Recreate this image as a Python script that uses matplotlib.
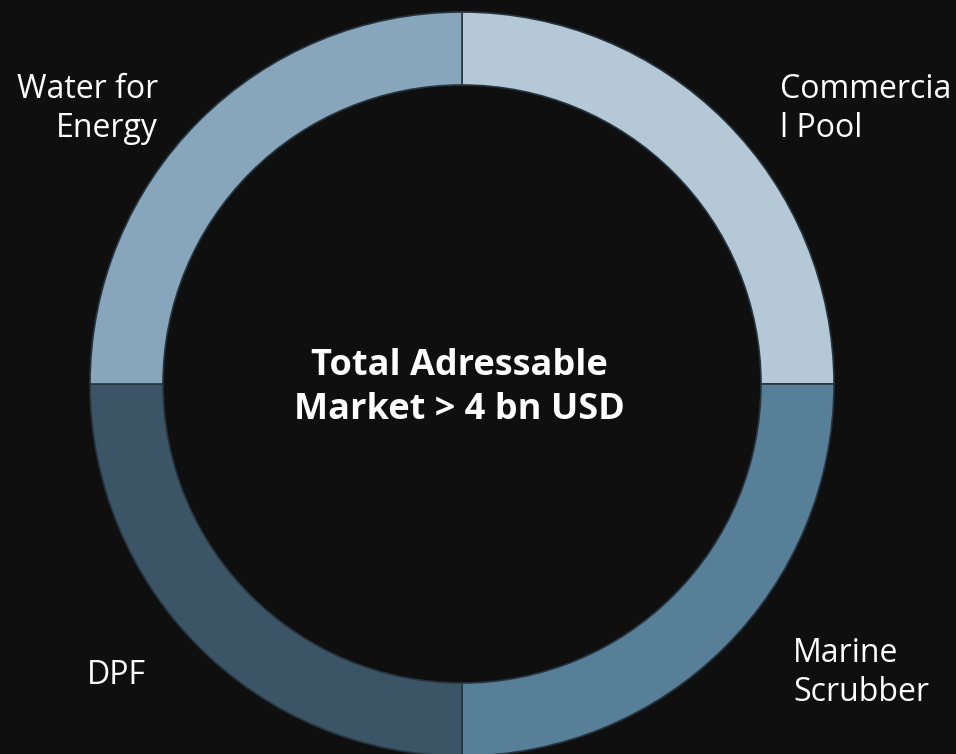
import matplotlib
matplotlib.use("Agg")
import matplotlib.pyplot as plt

# Market segments (equal shares), clockwise from 12 o'clock
segments = ["Commercial Pool", "Marine Scrubber", "DPF", "Water for Energy"]
shares = [25, 25, 25, 25]
colors = ["#b5c8d6", "#587f98", "#3b5567", "#87a5bb"]
center_title = "Total Adressable\nMarket > 4 bn USD"

BG = "#0f0f0f"
W, H = 956, 754

fig = plt.figure(figsize=(W / 100, H / 100), dpi=100, facecolor=BG)
ax = fig.add_axes([0, 0, 1, 1], facecolor=BG)

cx, cy = 462, H - 384
r_out, r_in = 372, 299

ax.pie(shares, colors=colors, startangle=90, counterclock=False,
       center=(cx, cy), radius=r_out, frame=True,
       wedgeprops=dict(width=r_out - r_in, edgecolor="#26343f", linewidth=1.2))
ax.set_xlim(0, W)
ax.set_ylim(0, H)
ax.set_aspect("equal")
ax.axis("off")

font = "Open Sans"
lab = dict(color="white", fontsize=23, family=font, linespacing=1.22)
ax.text(780, H - 109, "Commercia\nl Pool", ha="left", va="center", **lab)
ax.text(158, H - 109, "Water for\nEnergy", ha="right", va="center", multialignment="right", **lab)
ax.text(793, H - 673, "Marine\nScrubber", ha="left", va="center", **lab)
ax.text(87, H - 675, "DPF", ha="left", va="center", **lab)

ax.text(cx - 3, H - 388, center_title, ha="center", va="center", color="white",
        fontsize=26, fontweight="bold", family=font, linespacing=1.32)

fig.savefig("out.png", dpi=100, facecolor=BG)
